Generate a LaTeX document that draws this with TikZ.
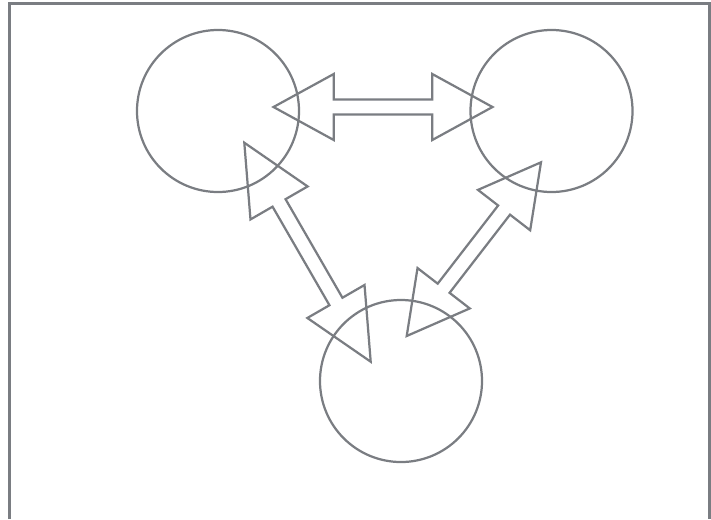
\documentclass[tikz,border=0pt]{standalone}
\usepackage{xcolor}
\definecolor{framegray}{RGB}{122, 125, 130}
\usepackage{tikz}
\usetikzlibrary{calc}

% half widths of the arrow heads and shafts
\newcommand{\headw}{0.99cm}
\newcommand{\shaftw}{0.225cm}
\newcommand{\dblarrow}[2]{%
  \draw[arrowline] (#1)
    -- ($(#1)!0.275!(#2)!\headw!90:(#2)$)
    -- ($(#1)!0.275!(#2)!\shaftw!90:(#2)$)
    -- ($(#1)!0.725!(#2)!\shaftw!90:(#2)$)
    -- ($(#1)!0.725!(#2)!\headw!90:(#2)$)
    -- (#2)
    -- ($(#1)!0.725!(#2)!\headw!-90:(#2)$)
    -- ($(#1)!0.725!(#2)!\shaftw!-90:(#2)$)
    -- ($(#1)!0.275!(#2)!\shaftw!-90:(#2)$)
    -- ($(#1)!0.275!(#2)!\headw!-90:(#2)$)
    -- cycle;}

\begin{document}
\begin{tikzpicture}[x=0.03cm, y=-0.03cm,
    circ/.style={circle, draw=framegray, line width=1.9pt, minimum size=4.86cm, inner sep=0pt},
    arrowline/.style={draw=framegray, line width=1.9pt, line join=miter},
    frame/.style={draw=framegray, line width=2.6pt}]
    \useasboundingbox (0,0) rectangle (711,519);
    \draw[frame] (9.5,519) -- (9.5,3.5) -- (709.5,3.5) -- (709.5,519);

    \node[circ] (left) at (218,111) {};
    \node[circ] (right) at (551.5,111) {};
    \node[circ] (bottom) at (401,381) {};

    % arrow tips
    \coordinate (lr1) at (273.5,107);
    \coordinate (lr2) at (492.5,107);
    \coordinate (lb1) at (244.3,142.7);
    \coordinate (lb2) at (370.7,361.7);
    \coordinate (rb1) at (541,162.3);
    \coordinate (rb2) at (406.7,336);

    \dblarrow{lr1}{lr2}
    \dblarrow{lb1}{lb2}
    \dblarrow{rb1}{rb2}
\end{tikzpicture}
\end{document}
